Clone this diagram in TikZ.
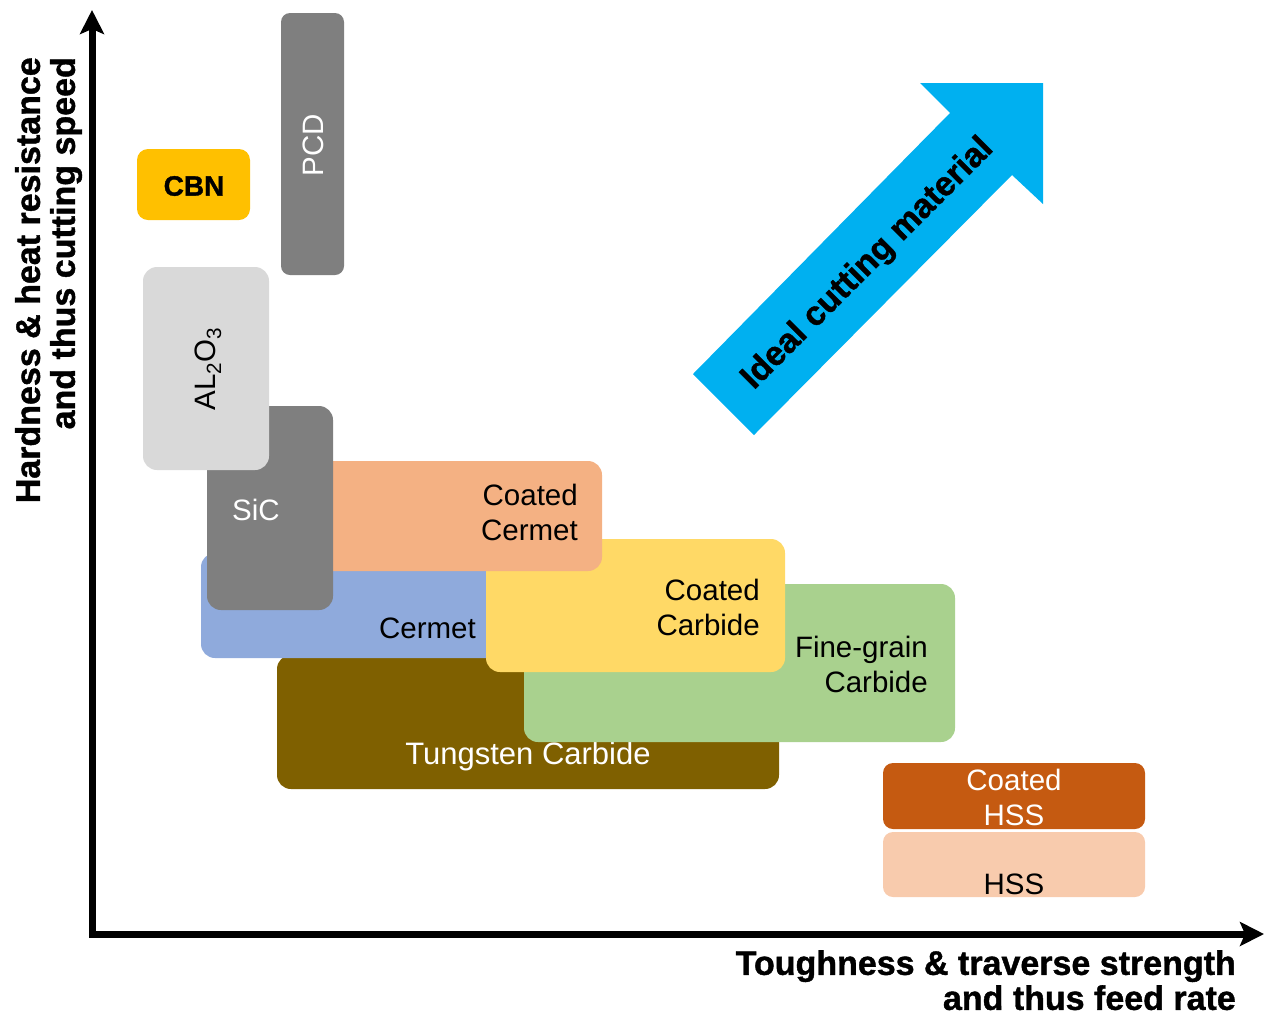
\documentclass[tikz,border=0pt]{standalone}
\usepackage{fontspec}
\setmainfont{Liberation Sans}
\newfontfamily\heavyfont[FakeBold=1.2]{Liberation Sans Bold}
\usetikzlibrary{positioning}
\usetikzlibrary{arrows.meta}

\definecolor{wcbrown}{HTML}{7F6000}
\definecolor{finegreen}{HTML}{A9D18E}
\definecolor{cermetblue}{HTML}{8FAADC}
\definecolor{carbyellow}{HTML}{FFD966}
\definecolor{cermetorange}{HTML}{F4B183}
\definecolor{darkgray}{HTML}{7F7F7F}
\definecolor{lightgray}{HTML}{D9D9D9}
\definecolor{cbnyellow}{HTML}{FFC000}
\definecolor{hssbrown}{HTML}{C55A11}
\definecolor{hsspeach}{HTML}{F8CBAD}
\definecolor{idealblue}{HTML}{00B0F0}

\begin{document}
\begin{tikzpicture}[x=1pt, y=-1pt,
    matbox/.style={rectangle, rounded corners=14pt, inner sep=0pt, draw=none},
    mattxt/.style={inner sep=0pt, font=\fontsize{29.5}{35}\selectfont},
    axistxt/.style={inner sep=0pt, font=\heavyfont\fontsize{34}{35}\selectfont},
    axisline/.style={line width=7pt, {Stealth[length=24pt,width=24pt,inset=5pt]}-{Stealth[length=24pt,width=24pt,inset=5pt]}}]
    \useasboundingbox (0,0) rectangle (1266,1013);

    % axes
    \coordinate (origin) at (92,934);
    \coordinate (ytip) at (92,10);
    \coordinate (xtip) at (1264,934);
    \draw[axisline] (ytip) -- (origin) -- (xtip);
    \node[axistxt, rotate=90, align=right, anchor=north east] (ylbl) at (15,57) {Hardness \& heat resistance\\and thus cutting speed};
    \node[axistxt, align=right, anchor=north east] (xlbl) at (1236,950) {Toughness \& traverse strength\\and thus feed rate};

    % material boxes, back to front
    \node[matbox, fill=wcbrown, minimum width=502pt, minimum height=134pt] (wc) at (528,722) {};
    \node[mattxt, font=\fontsize{31}{35}\selectfont, white] (wctxt) at (528,756) {Tungsten Carbide};
    \node[matbox, fill=finegreen, minimum width=431pt, minimum height=158pt] (fine) at (739.5,663) {};
    \node[mattxt, align=right, anchor=east] (finetxt) at (928,664) {Fine-grain\\Carbide};
    \node[matbox, fill=cermetblue, minimum width=309pt, minimum height=105pt] (cermet) at (355.5,605.5) {};
    \node[mattxt, anchor=east] (cermettxt) at (476,628) {Cermet};
    \node[matbox, fill=carbyellow, minimum width=299pt, minimum height=133pt] (ccarb) at (635.5,605.5) {};
    \node[mattxt, align=right, anchor=east] (ccarbtxt) at (760,607) {Coated\\Carbide};
    \node[matbox, fill=cermetorange, minimum width=302pt, minimum height=110pt] (ccermet) at (451,516) {};
    \node[mattxt, align=right, anchor=east] (ccermettxt) at (578,512) {Coated\\Cermet};
    \node[matbox, fill=darkgray, minimum width=126pt, minimum height=204pt] (sic) at (270,508) {};
    \node[mattxt, white] (sictxt) at (256,510) {SiC};
    \node[matbox, fill=lightgray, minimum width=126pt, minimum height=203pt] (alo) at (206,368.5) {};
    \node[mattxt, rotate=90] (alotxt) at (208,369) {AL\textsubscript{2}O\textsubscript{3}};
    \node[matbox, fill=darkgray, rounded corners=9pt, minimum width=63pt, minimum height=262pt] (pcd) at (312.5,144) {};
    \node[mattxt, rotate=90, white] (pcdtxt) at (313,145) {PCD};
    \node[matbox, fill=cbnyellow, rounded corners=11pt, minimum width=113pt, minimum height=71pt] (cbn) at (193.5,184.5) {};
    \node[mattxt, font=\heavyfont\fontsize{28}{35}\selectfont] (cbntxt) at (194,186) {CBN};
    \node[matbox, fill=hssbrown, rounded corners=10pt, minimum width=262pt, minimum height=66pt] (chss) at (1014,796) {};
    \node[mattxt, white, align=center] (chsstxt) at (1014,797) {Coated\\HSS};
    \node[matbox, fill=hsspeach, rounded corners=10pt, minimum width=262pt, minimum height=65pt] (hss) at (1014,864.5) {};
    \node[mattxt] (hsstxt) at (1014,884) {HSS};

    % ideal direction
    \fill[idealblue] (693,374) -- (950,113) -- (920,83) -- (1043,83) -- (1043,204) -- (1012,175) -- (754,435) -- cycle;
    \node[axistxt, rotate=45] (idealtxt) at (868,264) {Ideal cutting material};
\end{tikzpicture}
\end{document}
